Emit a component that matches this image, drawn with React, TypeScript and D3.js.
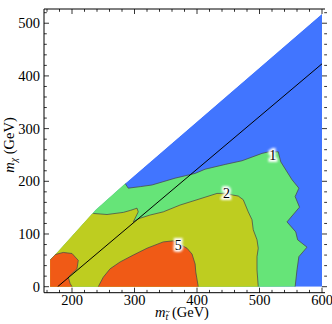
import React from "react";
import * as d3 from "d3";

// Kinematically allowed region (upper-left edge)
const boundaryX = [165, 165, 177, 238, 285, 600, 600];
const boundaryY = [0, 51, 66, 146, 196, 518, 0];

// Contour "1" (blue / green)
const contour1X = [285, 290, 310, 328, 365, 397, 413, 445, 472, 504, 515, 530, 534, 552, 563, 557, 564, 544, 558, 561, 576, 563, 560, 557];
const contour1Y = [196, 187, 190, 193, 206, 215, 223, 232, 239, 253, 256, 256, 237, 203, 187, 171, 151, 123, 104, 89, 75, 57, 32, 0];

// Contour "2" (green / yellow)
const contour2X = [234, 256, 282, 294, 304, 306, 301, 298, 302, 309, 325, 346, 373, 400, 432, 447, 457, 466, 474, 482, 488, 490, 496, 498, 496, 496, 498];
const contour2Y = [139, 137, 141, 145, 149, 142, 130, 123, 126, 130, 136, 142, 155, 165, 177, 177, 174, 172, 165, 142, 127, 108, 89, 73, 57, 32, 0];

// Contour "5" (yellow / orange), left island
const contour5aX = [165, 173, 186, 200, 210, 208, 200, 194, 197, 200];
const contour5aY = [51, 61, 65, 63, 50, 34, 25, 18, 6, 0];

// Contour "5", central island
const contour5bX = [242, 250, 261, 277, 298, 320, 346, 362, 372, 384, 392, 397, 398, 402];
const contour5bY = [0, 18, 34, 47, 60, 73, 85, 87, 81, 73, 62, 43, 28, 0];

// Straight reference line
const lineX = [177, 600];
const lineY = [0, 423];

const labelText = ["1", "2", "5"];
const labelX = [521, 447, 370];
const labelY = [250, 177, 79];

const xTicks = [200, 300, 400, 500, 600];
const yTicks = [0, 100, 200, 300, 400, 500];

const W = 332, H = 324;
const L = 44, R = 325, T = 9, B = 292.7;
const FONT = "'Liberation Serif', 'Times New Roman', serif";

const BLUE = "#4175FF";
const GREEN = "#66E478";
const YELLOW = "#BECD20";
const ORANGE = "#F05A16";

export default function App() {
  const x = d3.scaleLinear().domain([155.2, 604.8]).range([L, R]);
  const y = d3.scaleLinear().domain([-11.4, 527]).range([B, T]);
  const pts = (xs: number[], ys: number[]) => xs.map((v, i) => [v, ys[i]] as [number, number]);
  const line = d3.line<[number, number]>().x((d) => x(d[0])).y((d) => y(d[1]));

  const region = line(pts(boundaryX, boundaryY)) + "Z";
  const c1 = pts(contour1X, contour1Y);
  const c2 = pts(contour2X, contour2Y);
  const c5a = pts(contour5aX, contour5aY);
  const c5b = pts(contour5bX, contour5bY);

  const close = (p: [number, number][]) => {
    const s = p[0];
    return line([...p, [150, -5], [150, s[1]]]) + "Z";
  };
  const greenPoly = close(c1);
  const yellowPoly = close(c2);
  const orangeA = close(c5a);
  const orangeB = line([...c5b, [c5b[c5b.length - 1][0], -5], [c5b[0][0], -5]]) + "Z";

  const xMinor = d3.range(160, 601, 20);
  const yMinor = d3.range(0, 521, 20);

  const tickStroke = "#000";
  return (
    <svg width={W} height={H} style={{ position: "absolute", left: 0, top: 0, background: "#fff" }}>
      <defs>
        <clipPath id="reg">
          <path d={region} />
        </clipPath>
        <filter id="glow" x="-50%" y="-50%" width="200%" height="200%">
          <feGaussianBlur stdDeviation="1.2" />
        </filter>
      </defs>
      <g clipPath="url(#reg)">
        <path d={region} fill={BLUE} />
        <path d={greenPoly} fill={GREEN} />
        <path d={yellowPoly} fill={YELLOW} />
        <path d={orangeA} fill={ORANGE} />
        <path d={orangeB} fill={ORANGE} />
        {[c1, c2, c5a, c5b].map((c, i) => (
          <path key={i} d={line(c) || ""} fill="none" stroke="#4a4a4a" strokeWidth={0.9} strokeOpacity={0.85} />
        ))}
        <path d={line(pts(lineX, lineY)) || ""} fill="none" stroke="#000" strokeWidth={1} />
      </g>
      {labelText.map((t, i) => (
        <g key={t}>
          <text x={x(labelX[i])} y={y(labelY[i]) + 5} textAnchor="middle" fontFamily={FONT} fontSize={14}
            fill="none" stroke="#fff" strokeWidth={4} filter="url(#glow)">{t}</text>
          <text x={x(labelX[i])} y={y(labelY[i]) + 5} textAnchor="middle" fontFamily={FONT} fontSize={14} fill="#000">{t}</text>
        </g>
      ))}
      {/* frame */}
      <line x1={L} x2={R} y1={B} y2={B} stroke="#000" strokeWidth={1} />
      <line x1={L} x2={L} y1={T} y2={B} stroke="#000" strokeWidth={1} />
      <line x1={L} x2={R} y1={T} y2={T} stroke="#000" strokeWidth={1} />
      {xMinor.map((v) => {
        const major = xTicks.includes(v);
        const len = major ? 5 : 2.8;
        return (
          <g key={"xt" + v}>
            <line x1={x(v)} x2={x(v)} y1={B} y2={B - len} stroke={tickStroke} strokeWidth={0.8} />
            <line x1={x(v)} x2={x(v)} y1={T} y2={T + len} stroke={tickStroke} strokeWidth={0.8} />
          </g>
        );
      })}
      {yMinor.map((v) => {
        const major = yTicks.includes(v);
        const len = major ? 5 : 2.8;
        return (
          <g key={"yt" + v}>
            <line x1={L} x2={L + len} y1={y(v)} y2={y(v)} stroke={tickStroke} strokeWidth={0.8} />
            <line x1={R + 2} x2={R + 2 - len} y1={y(v)} y2={y(v)} stroke={tickStroke} strokeWidth={0.8} />
          </g>
        );
      })}
      {xTicks.map((v) => (
        <text key={"xl" + v} x={x(v)} y={304.5} textAnchor="middle" fontFamily={FONT} fontSize={14.5}>{v}</text>
      ))}
      {yTicks.map((v) => (
        <text key={"yl" + v} x={40} y={y(v) + 5} textAnchor="end" fontFamily={FONT} fontSize={14.5}>{v}</text>
      ))}
      <text x={155} y={317} textAnchor="start" fontFamily={FONT} fontSize={14.5}>
        <tspan fontStyle="italic">m</tspan>
        <tspan fontStyle="italic" fontSize={10} dy={3}>t</tspan>
        <tspan dy={-3}> (GeV)</tspan>
      </text>
      <path d="M165.6,312.2 C166.2,311.0 167.0,311.0 167.6,311.6 C168.2,312.2 169.0,312.2 169.6,311.0"
        fill="none" stroke="#000" strokeWidth={0.7} />
      <text transform="translate(14,145) rotate(-90)" textAnchor="middle" fontFamily={FONT} fontSize={14.5}>
        <tspan fontStyle="italic">m</tspan>
        <tspan fontStyle="italic" fontSize={10} dy={3}>χ</tspan>
        <tspan dy={-3}> (GeV)</tspan>
      </text>
    </svg>
  );
}
